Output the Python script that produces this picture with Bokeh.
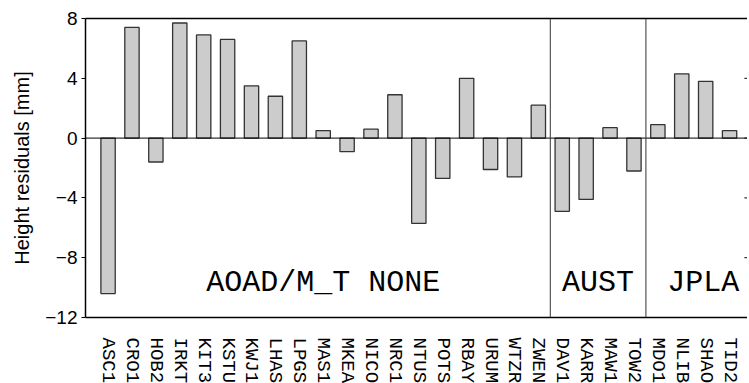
import numpy as np
from bokeh.plotting import figure
from bokeh.models import Range1d, FixedTicker, LinearAxis, Span, ColumnDataSource
from bokeh.core.properties import value
from bokeh.embed import file_html
from bokeh.resources import INLINE

# ---------------- data ----------------
stations = ["ASC1", "CRO1", "HOB2", "IRKT", "KIT3", "KSTU", "KWJ1", "LHAS", "LPGS",
            "MAS1", "MKEA", "NICO", "NRC1", "NTUS", "POTS", "RBAY", "URUM", "WTZR",
            "ZWEN", "DAV1", "KARR", "MAW1", "TOW2", "MDO1", "NLIB", "SHAO", "TID2"]
residuals = [-10.4, 7.4, -1.6, 7.7, 6.9, 6.6, 3.5, 2.8, 6.5,
             0.5, -0.9, 0.6, 2.9, -5.7, -2.7, 4.0, -2.1, -2.6,
             2.2, -4.9, -4.1, 0.7, -2.2, 0.9, 4.3, 3.8, 0.5]
group_names = ["AOAD/M_T NONE", "AUST", "JPLA"]
group_sizes = [19, 4, 4]
group_label_x = [10.0, 21.5, 25.9]
group_label_y = [-9.7, -9.7, -9.7]
y_ticks = [-12, -8, -4, 0, 4, 8]
y_label = "Height residuals [mm]"

positions = list(range(1, len(stations) + 1))
boundaries = list(np.cumsum(group_sizes)[:-1] + 0.5)

X0, X1 = 0.056, 27.75
src = ColumnDataSource(dict(x=positions, top=residuals, name=stations))

p = figure(width=747, height=386, output_backend="svg", toolbar_location=None,
           x_range=Range1d(X0, X1), y_range=Range1d(-12, 8),
           min_border_left=85, min_border_right=0, min_border_top=18,
           min_border_bottom=69, outline_line_color=None,
           background_fill_color="white", border_fill_color="white")
p.grid.visible = False

# bars
p.vbar(x="x", top="top", bottom=0, width=0.6, source=src,
       fill_color="#cccccc", line_color="#333333", line_width=1.3)

# zero line and group separators
p.add_layout(Span(location=0, dimension="width", line_color="black", line_width=1))
for b in boundaries:
    p.add_layout(Span(location=b, dimension="height", line_color="#333333", line_width=1))

# group labels
p.text(x=group_label_x, y=group_label_y, text=group_names,
       text_font=value("Liberation Mono"), text_font_size="30px",
       text_align="center", text_baseline="middle", text_color="black")

# inward tick marks on the right edge
tick_len = 0.13
p.segment(x0=[X1 - tick_len] * len(y_ticks), x1=[X1] * len(y_ticks),
          y0=y_ticks, y1=y_ticks, line_color="black", line_width=1)

# x axis
xa = p.xaxis[0]
xa.ticker = FixedTicker(ticks=positions)
xa.major_label_overrides = {i: s for i, s in zip(positions, stations)}
xa.major_label_orientation = "vertical"
xa.major_label_text_font = "Liberation Mono"
xa.major_label_text_font_size = "19px"
xa.major_label_text_color = "black"
xa.major_label_standoff = 20
xa.major_tick_out = 0
xa.major_tick_in = 0
xa.minor_tick_out = 0
xa.minor_tick_in = 0
xa.axis_line_color = "black"
xa.axis_line_width = 1.5

# y axis
ya = p.yaxis[0]
ya.ticker = FixedTicker(ticks=y_ticks)
ya.major_label_overrides = {t: (str(t).replace("-", "\u2212")) for t in y_ticks}
ya.major_label_text_font = "Liberation Sans"
ya.major_label_text_font_size = "19px"
ya.major_label_text_color = "black"
ya.major_label_standoff = 4
ya.major_tick_out = 4
ya.major_tick_in = 0
ya.minor_tick_out = 0
ya.minor_tick_in = 0
ya.axis_line_color = "black"
ya.axis_line_width = 1.5
ya.major_tick_line_color = "black"
ya.axis_label = y_label
ya.axis_label_text_font = "Liberation Sans"
ya.axis_label_text_font_size = "20px"
ya.axis_label_text_font_style = "normal"
ya.axis_label_text_color = "black"
ya.axis_label_standoff = 9

# top border
top = LinearAxis(ticker=FixedTicker(ticks=[]),
                 major_tick_out=0, major_tick_in=0, minor_tick_out=0, minor_tick_in=0,
                 axis_line_color="black", axis_line_width=1.5, major_label_standoff=0)
p.add_layout(top, "above")

open("out.html", "w").write(file_html(p, INLINE))
